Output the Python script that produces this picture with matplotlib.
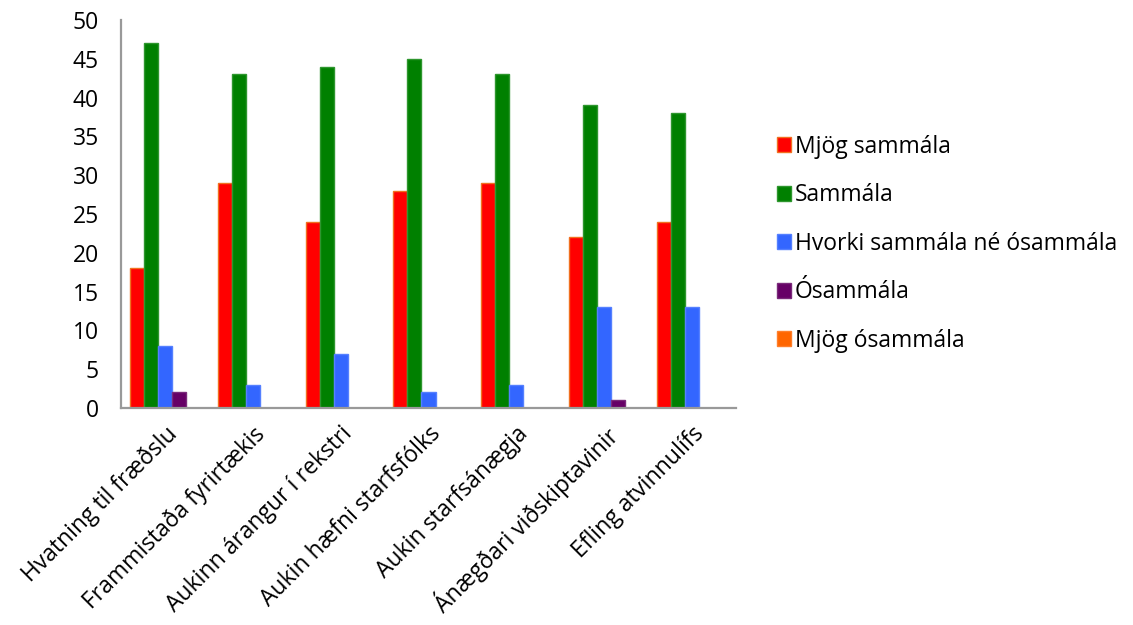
import numpy as np
import matplotlib.pyplot as plt

plt.rcParams['font.family'] = ['Open Sans', 'DejaVu Sans']

categories = ['Hvatning til fræðslu', 'Frammistaða fyrirtækis',
              'Aukinn árangur í rekstri', 'Aukin hæfni starfsfólks',
              'Aukin starfsánægja', 'Ánægðari viðskiptavinir',
              'Efling atvinnulífs']
mjog_sammala = [18, 29, 24, 28, 29, 22, 24]
sammala = [47, 43, 44, 45, 43, 39, 38]
hvorki = [8, 3, 7, 2, 3, 13, 13]
osammala = [2, 0, 0, 0, 0, 1, 0]
mjog_osammala = [0, 0, 0, 0, 0, 0, 0]

series = [
    ('Mjög sammála', mjog_sammala, '#FF0000', '#F07020'),
    ('Sammála', sammala, '#008000', '#2E962E'),
    ('Hvorki sammála né ósammála', hvorki, '#3366FF', '#5580FF'),
    ('Ósammála', osammala, '#660066', '#7A2A7A'),
    ('Mjög ósammála', mjog_osammala, '#FF6600', '#FF7F2A'),
]

fig = plt.figure(figsize=(11.33, 6.25), dpi=100)
ax = fig.add_axes([0.1068, 0.3472, 0.5428, 0.6208])

x = np.arange(len(categories))
w = 0.16
handles = []
for i, (name, vals, col, edge) in enumerate(series):
    b = ax.bar(x + (i - 2) * w, vals, w, color=col, edgecolor=edge,
               linewidth=1, label=name)
    handles.append(b)

fs = 16.5
ax.set_xlim(-0.5, len(categories) - 0.5)
ax.set_ylim(0, 50)
ax.set_yticks(range(0, 51, 5))
ax.set_xticks(x)
ax.set_xticklabels(categories, rotation=45, ha='right',
                   rotation_mode='anchor', fontsize=fs)
ax.tick_params(axis='both', length=0, labelsize=fs)
ax.tick_params(axis='y', pad=16)
ax.tick_params(axis='x', pad=10)

for s in ['top', 'right']:
    ax.spines[s].set_visible(False)
for s in ['left', 'bottom']:
    ax.spines[s].set_color('#999999')
    ax.spines[s].set_linewidth(1.6)

fig.legend(handles=handles, loc='center left',
           bbox_to_anchor=(0.686, 0.61), frameon=False, fontsize=fs,
           handlelength=0.62, handleheight=0.62, handletextpad=0.15,
           labelspacing=1.07, borderpad=0, borderaxespad=0)

fig.savefig('out.png', dpi=100)
